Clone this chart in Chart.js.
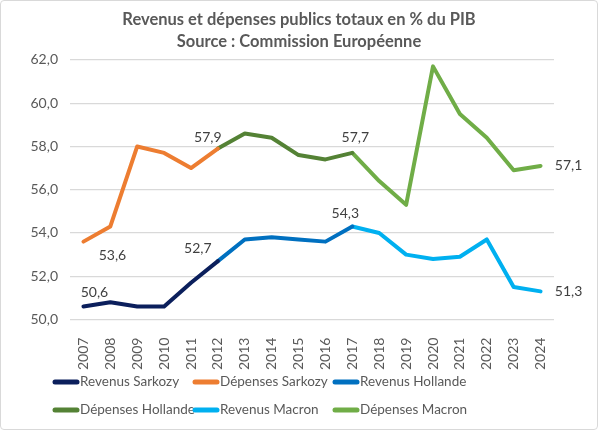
<!DOCTYPE html>
<html>
<head>
<meta charset="utf-8">
<script src="https://cdn.jsdelivr.net/npm/chart.js@4.4.0/dist/chart.umd.min.js"></script>
<style>
  html, body { margin: 0; padding: 0; background: #fff; }
  #wrap { position: relative; width: 598px; height: 430px; box-sizing: border-box; border: 1px solid #d9d9d9; border-radius: 4px; }
</style>
</head>
<body>
<div id="wrap"><canvas id="chart"></canvas></div>
<script>
const years = ['2007', '2008', '2009', '2010', '2011', '2012', '2013', '2014', '2015',
               '2016', '2017', '2018', '2019', '2020', '2021', '2022', '2023', '2024'];

const revenusSarkozy  = [50.6, 50.8, 50.6, 50.6, 51.7, 52.7, null, null, null, null, null, null, null, null, null, null, null, null];
const depensesSarkozy = [53.6, 54.3, 58.0, 57.7, 57.0, 57.9, null, null, null, null, null, null, null, null, null, null, null, null];
const revenusHollande = [null, null, null, null, null, 52.7, 53.7, 53.8, 53.7, 53.6, 54.3, null, null, null, null, null, null, null];
const depensesHollande = [null, null, null, null, null, 57.9, 58.6, 58.4, 57.6, 57.4, 57.7, null, null, null, null, null, null, null];
const revenusMacron   = [null, null, null, null, null, null, null, null, null, null, 54.3, 54.0, 53.0, 52.8, 52.9, 53.7, 51.5, 51.3];
const depensesMacron  = [null, null, null, null, null, null, null, null, null, null, 57.7, 56.4, 55.3, 61.7, 59.5, 58.4, 56.9, 57.1];

const yTicks = [50, 52, 54, 56, 58, 60, 62];

const FONT = 'Lato, "Open Sans", sans-serif';
const GREY = '#595959';

function fmt(v) {
    return v.toFixed(1).replace('.', ',');
}

// where the value labels sit, relative to their point
const labelSpots = [
    { dataset: 0, index: 0,  dx: 11,  dy: -14 },
    { dataset: 1, index: 0,  dx: 29,  dy: 14 },
    { dataset: 1, index: 5,  dx: -10, dy: -11 },
    { dataset: 0, index: 5,  dx: -20, dy: -13 },
    { dataset: 5, index: 10, dx: 3,   dy: -15 },
    { dataset: 4, index: 10, dx: -7,  dy: -13 },
    { dataset: 5, index: 17, dx: 28,  dy: 0 },
    { dataset: 4, index: 17, dx: 28,  dy: 0 }
];

const valueLabels = {
    id: 'valueLabels',
    afterDatasetsDraw(chart) {
        const ctx = chart.ctx;
        ctx.save();
        ctx.font = '14px ' + FONT;
        ctx.fillStyle = '#404040';
        ctx.textAlign = 'center';
        ctx.textBaseline = 'middle';
        labelSpots.forEach(function(s) {
            const pt = chart.getDatasetMeta(s.dataset).data[s.index];
            const v = chart.data.datasets[s.dataset].data[s.index];
            ctx.fillText(fmt(v), pt.x + s.dx, pt.y + s.dy);
        });
        ctx.restore();
    }
};

// Excel-like legend: 3 fixed columns, 2 rows under the axis
const legendBox = { x0: 52, y0: 381, colW: 140, rowH: 28, lineW: 26 };

const gridLegend = {
    id: 'gridLegend',
    afterDraw(chart) {
        const ctx = chart.ctx;
        ctx.save();
        ctx.font = '13.5px ' + FONT;
        ctx.textAlign = 'left';
        ctx.textBaseline = 'middle';
        chart.data.datasets.forEach(function(ds, i) {
            const x = legendBox.x0 + (i % 3) * legendBox.colW;
            const y = legendBox.y0 + Math.floor(i / 3) * legendBox.rowH;
            ctx.strokeStyle = ds.borderColor;
            ctx.lineWidth = 5;
            ctx.lineCap = 'round';
            ctx.beginPath();
            ctx.moveTo(x + 2, y);
            ctx.lineTo(x + legendBox.lineW - 2, y);
            ctx.stroke();
            ctx.fillStyle = GREY;
            ctx.fillText(ds.label, x + legendBox.lineW + 1, y);
        });
        ctx.restore();
    }
};

function line(label, data, color) {
    return {
        label: label,
        data: data,
        borderColor: color,
        backgroundColor: color,
        borderWidth: 4,
        borderCapStyle: 'round',
        borderJoinStyle: 'round',
        pointRadius: 0,
        pointHoverRadius: 0,
        tension: 0,
        fill: false,
        spanGaps: false
    };
}

const ctx = document.getElementById('chart').getContext('2d');
new Chart(ctx, {
    type: 'line',
    data: {
        labels: years,
        datasets: [
            line('Revenus Sarkozy', revenusSarkozy, '#0b1f5c'),
            line('Dépenses Sarkozy', depensesSarkozy, '#ed7d31'),
            line('Revenus Hollande', revenusHollande, '#0070c0'),
            line('Dépenses Hollande', depensesHollande, '#548235'),
            line('Revenus Macron', revenusMacron, '#00b0f0'),
            line('Dépenses Macron', depensesMacron, '#70ad47')
        ]
    },
    options: {
        responsive: true,
        maintainAspectRatio: false,
        animation: false,
        layout: {
            padding: { left: 0, right: 0, top: 0, bottom: 49 }
        },
        plugins: {
            title: {
                display: true,
                text: ['Revenus et dépenses publics totaux en % du PIB', 'Source : Commission Européenne'],
                color: GREY,
                font: { family: FONT, size: 16.5, weight: 'bold', lineHeight: 1.33 },
                padding: { top: 8, bottom: 7 }
            },
            legend: { display: false },
            tooltip: { enabled: false }
        },
        scales: {
            x: {
                offset: true,
                grid: { display: false },
                border: { display: false },
                ticks: {
                    color: GREY,
                    font: { family: FONT, size: 14 },
                    minRotation: 90,
                    maxRotation: 90,
                    padding: 10
                }
            },
            y: {
                min: 50,
                max: 62,
                afterBuildTicks: function(axis) {
                    axis.ticks = yTicks.map(function(v) { return { value: v }; });
                },
                afterFit: function(axis) {
                    axis.width = 69;
                },
                grid: { color: '#d9d9d9', lineWidth: 1.3, drawTicks: false },
                border: { display: false },
                ticks: {
                    color: GREY,
                    font: { family: FONT, size: 14 },
                    padding: 12,
                    callback: function(v) { return fmt(v); }
                }
            },
            // empty right gutter so the title stays centred on the whole picture
            gutter: {
                position: 'right',
                min: 50,
                max: 62,
                grid: { display: false },
                border: { display: false },
                ticks: { display: false },
                afterFit: function(axis) {
                    axis.width = 43;
                }
            }
        }
    },
    plugins: [valueLabels, gridLegend]
});
</script>
</body>
</html>
